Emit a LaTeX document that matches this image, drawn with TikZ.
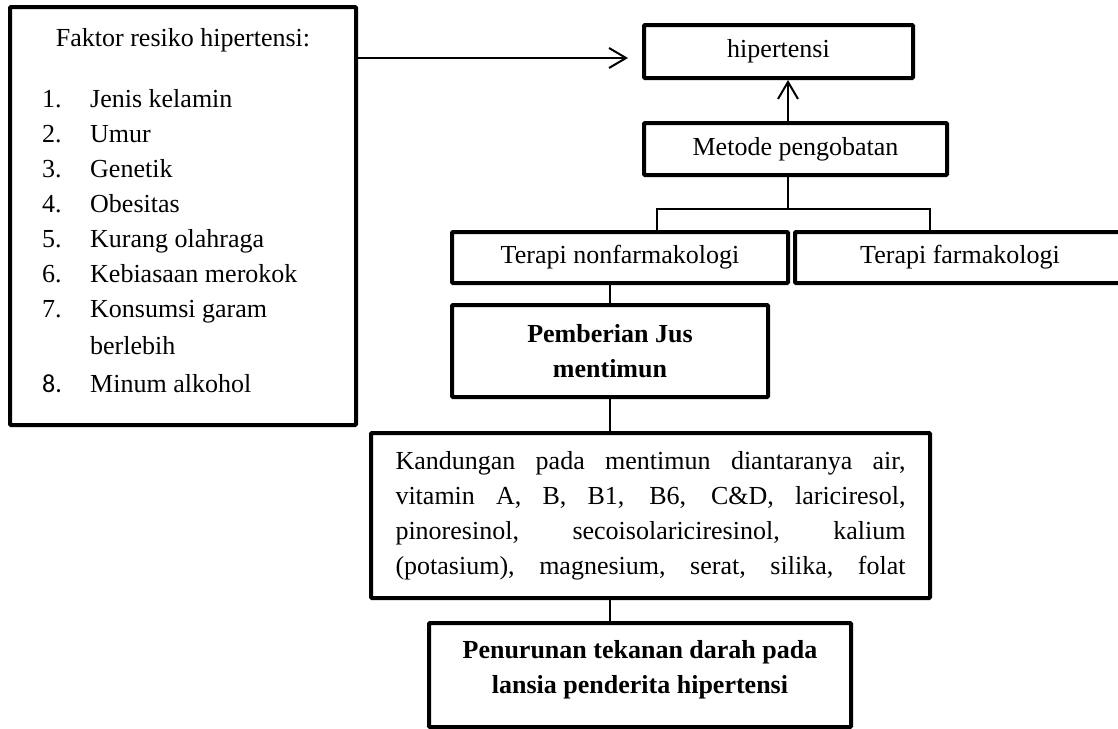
\documentclass[tikz,border=0pt]{standalone}
\usepackage{fontspec}
\setmainfont{Liberation Serif}
\newfontfamily\angka{Carlito}
\usetikzlibrary{arrows.meta,calc}

\begin{document}
\begin{tikzpicture}[x=1pt,y=-1pt,
  kotak/.style={draw,line width=4pt,rounded corners=1pt,inner sep=0pt},
  teks/.style={font=\fontsize{26}{35}\selectfont,inner sep=0pt},
  tebal/.style={font=\fontsize{26}{35}\selectfont\bfseries,inner sep=0pt,align=center},
  garis/.style={line width=1.5pt},
  panah/.style={line width=2pt,-{Straight Barb[length=17pt,width=20pt,line width=2pt]}}]
\fill [white] (0,0) rectangle (1118,728);
\useasboundingbox (0,0) rectangle (1118,728);
% faktor resiko
\node [kotak,minimum width=346pt,minimum height=418pt] (a) at (183,216) {};
\node [teks,anchor=base] (a0) at (183,46) {Faktor resiko hipertensi:};
\foreach \n/\t/\y in {1/Jenis kelamin/107,2/Umur/142,3/Genetik/177,4/Obesitas/212,
  5/Kurang olahraga/247,6/Kebiasaan merokok/282,7/Konsumsi garam/317}{
  \node [teks,anchor=base west] (n\n) at (42,\y) {\n.};
  \node [teks,anchor=base west] (a\n) at (90,\y) {\t};
}
\node [teks,anchor=base west] (a7b) at (90,354) {berlebih};
\node [teks,anchor=base west] (n8) at (42,392) {\angka 8.};
\node [teks,anchor=base west] (a8) at (90,392) {Minum alkohol};
% alur kanan
\node [kotak,teks,minimum width=269pt,minimum height=53pt] (b) at (778.5,51.5) {hipertensi};
\node [kotak,teks,minimum width=303pt,minimum height=52pt] (c) at (795.5,149) {Metode pengobatan};
\node [kotak,teks,minimum width=336pt,minimum height=51pt] (d) at (620,257.5) {Terapi nonfarmakologi};
\node [kotak,teks,minimum width=330pt,minimum height=51pt] (e) at (960,257.5) {Terapi farmakologi};
\node [kotak,tebal,minimum width=316pt,minimum height=92pt] (f) at (610,351) {Pemberian Jus\\mentimun};
\node [kotak,teks,align=center,minimum width=559pt,minimum height=165pt] (g) at (650.5,515.5)
  {\makebox[510pt][s]{Kandungan pada mentimun diantaranya air,}\\
   \makebox[510pt][s]{vitamin A, B, B1, B6, C\&D, lariciresol,}\\
   \makebox[510pt][s]{pinoresinol, secoisolariciresinol, kalium}\\
   \makebox[510pt][s]{(potasium), magnesium, serat, silika, folat}};
\node [kotak,minimum width=422pt,minimum height=104pt] (h) at (640,675) {};
\node [tebal] (h1) at (640,670) {Penurunan tekanan darah pada\\lansia penderita hipertensi};
% penghubung
\coordinate (m) at (788,209);
\coordinate (dl) at (657,209);
\coordinate (er) at (930,209);
\draw [panah] ($(a.east |- b.west)+(0,6.5)$) -- ($(b.west)+(-14,6.5)$);
\draw [panah] (c.north -| m) -- (b.south -| m);
\draw [garis] (c.south -| m) -- (m);
\draw [garis] (d.north -| dl) -- (dl) -- (er) -- (e.north -| er);
\draw [garis] (d.south -| f.north) -- (f.north);
\draw [garis] (f.south) -- (f.south |- g.north);
\draw [garis] (g.south -| f.south) -- (h.north -| f.south);
\end{tikzpicture}
\end{document}
